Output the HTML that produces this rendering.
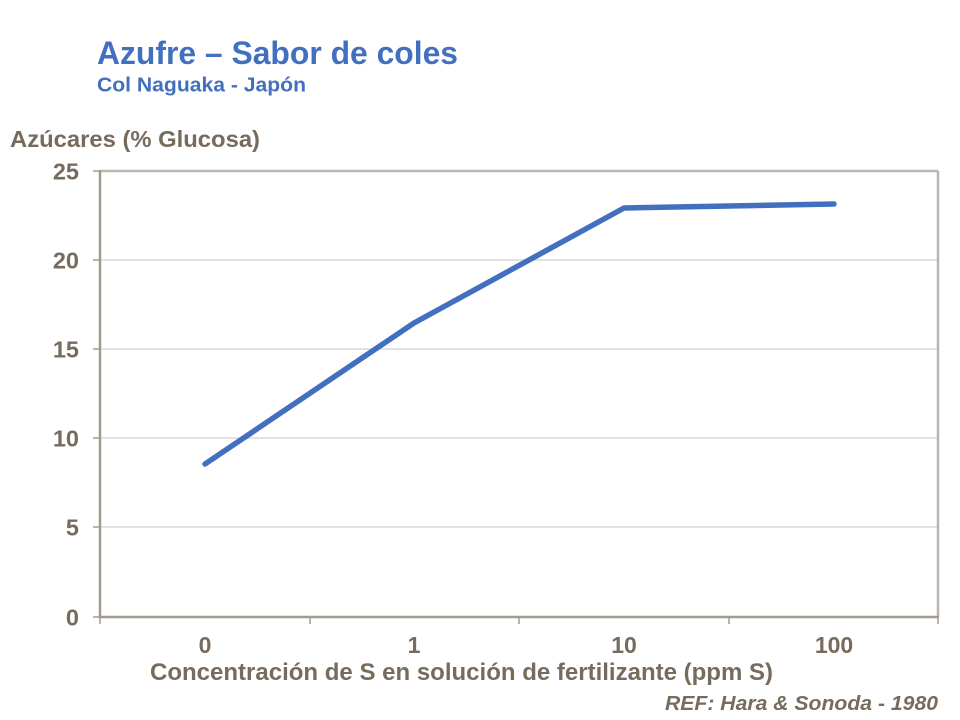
<!DOCTYPE html>
<html>
<head>
<meta charset="utf-8">
<style>
  html, body { margin: 0; padding: 0; background: #ffffff; }
  svg { display: block; }
  text { font-family: "Liberation Sans", Arial, sans-serif; font-weight: bold; }
</style>
</head>
<body>
<svg width="960" height="720" viewBox="0 0 960 720" xmlns="http://www.w3.org/2000/svg">
  <rect x="0" y="0" width="960" height="720" fill="#ffffff"/>

  <!-- Titles -->
  <text x="97" y="64" font-size="32.5" fill="#4270BE" textLength="361" lengthAdjust="spacingAndGlyphs">Azufre – Sabor de coles</text>
  <text x="97" y="91.5" font-size="20.5" fill="#4270BE" textLength="209" lengthAdjust="spacingAndGlyphs">Col Naguaka - Japón</text>

  <!-- Y axis title -->
  <text x="10" y="147" font-size="23" fill="#776B5D" textLength="250" lengthAdjust="spacingAndGlyphs">Azúcares (% Glucosa)</text>

  <!-- Gridlines -->
  <g stroke="#D9D9D9" stroke-width="1.5">
    <line x1="100" y1="260" x2="938" y2="260"/>
    <line x1="100" y1="349" x2="938" y2="349"/>
    <line x1="100" y1="438" x2="938" y2="438"/>
    <line x1="100" y1="527" x2="938" y2="527"/>
  </g>

  <!-- Plot border top/right -->
  <line x1="100" y1="171" x2="938" y2="171" stroke="#BDB6AC" stroke-width="2.5"/>
  <line x1="938" y1="171" x2="938" y2="617" stroke="#BDB6AC" stroke-width="2.5"/>

  <!-- Axes -->
  <line x1="100" y1="170" x2="100" y2="618" stroke="#A39B8F" stroke-width="2.5"/>
  <line x1="99" y1="617" x2="939" y2="617" stroke="#A39B8F" stroke-width="2.5"/>

  <!-- Y ticks -->
  <g stroke="#A39B8F" stroke-width="1.5">
    <line x1="93" y1="171" x2="100" y2="171"/>
    <line x1="93" y1="260" x2="100" y2="260"/>
    <line x1="93" y1="349" x2="100" y2="349"/>
    <line x1="93" y1="438" x2="100" y2="438"/>
    <line x1="93" y1="527" x2="100" y2="527"/>
    <line x1="93" y1="617" x2="100" y2="617"/>
  </g>
  <!-- X ticks -->
  <g stroke="#A39B8F" stroke-width="1.5">
    <line x1="100" y1="617" x2="100" y2="624"/>
    <line x1="310" y1="617" x2="310" y2="624"/>
    <line x1="519" y1="617" x2="519" y2="624"/>
    <line x1="729" y1="617" x2="729" y2="624"/>
    <line x1="938" y1="617" x2="938" y2="624"/>
  </g>

  <!-- Y tick labels -->
  <g font-size="23.5" fill="#776B5D" text-anchor="end">
    <text x="79" y="179.5">25</text>
    <text x="79" y="268.5">20</text>
    <text x="79" y="357.5">15</text>
    <text x="79" y="446.5">10</text>
    <text x="79" y="535.5">5</text>
    <text x="79" y="625.5">0</text>
  </g>

  <!-- X tick labels -->
  <g font-size="23" fill="#776B5D" text-anchor="middle">
    <text x="205" y="653">0</text>
    <text x="414" y="653">1</text>
    <text x="624" y="653">10</text>
    <text x="834" y="653">100</text>
  </g>

  <!-- X axis title -->
  <text x="150" y="680" font-size="24" fill="#776B5D" textLength="623" lengthAdjust="spacingAndGlyphs">Concentración de S en solución de fertilizante (ppm S)</text>

  <!-- Reference -->
  <text x="665" y="710" font-size="20" font-style="italic" fill="#776B5D" textLength="273" lengthAdjust="spacingAndGlyphs">REF: Hara &amp; Sonoda - 1980</text>

  <!-- Data line -->
  <polyline points="205,464 414,323 624,208 834,204" fill="none" stroke="#4270BE" stroke-width="5.5" stroke-linecap="round" stroke-linejoin="round"/>
</svg>
</body>
</html>
